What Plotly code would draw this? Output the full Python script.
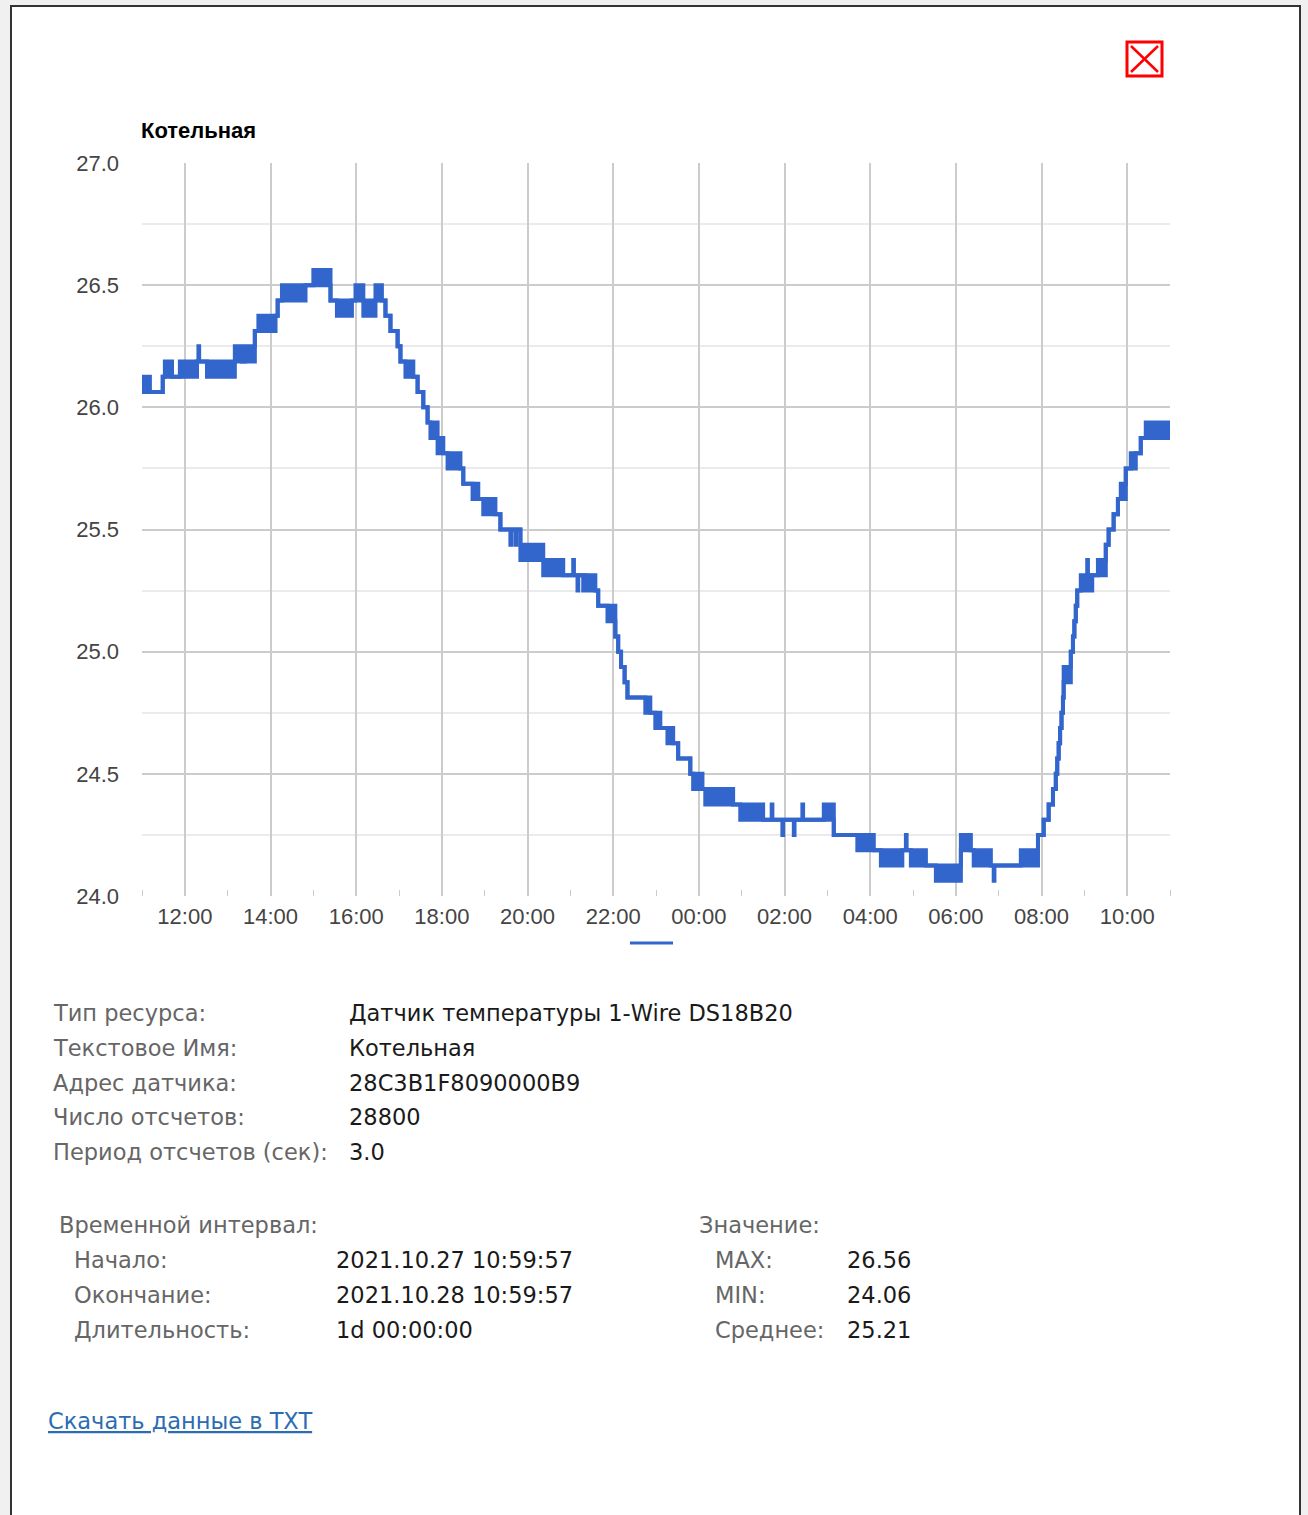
import plotly.graph_objects as go

# DS18B20 readings. Where the sensor flickers between two
# adjacent 1/16 degree steps, low and high differ; otherwise they are equal.
times = [
    "27 10:59:57", "27 11:11", "27 11:29", "27 11:32", "27 11:42", "27 11:53", "27 12:17", "27 12:19", "27 12:20", "27 12:31",
    "27 13:10", "27 13:20", "27 13:24", "27 13:38", "27 13:43", "27 14:07", "27 14:10", "27 14:16", "27 14:49", "27 15:00",
    "27 15:24", "27 15:33", "27 15:54", "27 15:59", "27 16:10", "27 16:27", "27 16:36", "27 16:41", "27 16:48", "27 16:58",
    "27 17:02", "27 17:09", "27 17:20", "27 17:26", "27 17:34", "27 17:40", "27 17:44", "27 17:54", "27 18:02", "27 18:08",
    "27 18:26", "27 18:30", "27 18:43", "27 18:51", "27 18:58", "27 19:15", "27 19:22", "27 19:36", "27 19:37", "27 19:43",
    "27 19:44", "27 19:50", "27 20:22", "27 20:50", "27 21:04", "27 21:05", "27 21:10", "27 21:11", "27 21:18", "27 21:19",
    "27 21:21", "27 21:35", "27 21:39", "27 21:52", "27 22:03", "27 22:07", "27 22:11", "27 22:16", "27 22:20", "27 22:45",
    "27 22:52", "27 22:59", "27 23:06", "27 23:16", "27 23:24", "27 23:31", "27 23:48", "27 23:52", "28 00:05", "28 00:09",
    "28 00:48", "28 00:58", "28 01:30", "28 01:42", "28 01:43", "28 01:57", "28 01:58", "28 02:13", "28 02:14", "28 02:25",
    "28 02:26", "28 02:55", "28 03:09", "28 03:42", "28 04:05", "28 04:15", "28 04:45", "28 04:50", "28 04:51", "28 04:57",
    "28 05:18", "28 05:32", "28 06:07", "28 06:21", "28 06:25", "28 06:49", "28 06:53", "28 06:54", "28 07:31", "28 07:55",
    "28 08:03", "28 08:10", "28 08:16", "28 08:20", "28 08:22", "28 08:24", "28 08:26", "28 08:28", "28 08:30", "28 08:31",
    "28 08:41", "28 08:44", "28 08:46", "28 08:48", "28 08:50", "28 08:55", "28 09:04", "28 09:05", "28 09:10", "28 09:11",
    "28 09:19", "28 09:30", "28 09:34", "28 09:41", "28 09:47", "28 09:51", "28 09:58", "28 10:05", "28 10:12", "28 10:19",
    "28 10:26", "28 10:59:57",
]
low = [
    26.0625, 26.0625, 26.125, 26.125, 26.125, 26.125, 26.1875, 26.1875, 26.1875, 26.125,
    26.1875, 26.1875, 26.1875, 26.3125, 26.3125, 26.375, 26.4375, 26.4375, 26.5, 26.5,
    26.4375, 26.375, 26.4375, 26.4375, 26.375, 26.4375, 26.4375, 26.375, 26.3125, 26.25,
    26.1875, 26.125, 26.125, 26.0625, 26.0, 25.9375, 25.875, 25.8125, 25.8125, 25.75,
    25.75, 25.6875, 25.625, 25.625, 25.5625, 25.5625, 25.5, 25.4375, 25.5, 25.4375,
    25.5, 25.375, 25.3125, 25.3125, 25.3125, 25.3125, 25.25, 25.3125, 25.25, 25.3125,
    25.25, 25.25, 25.1875, 25.125, 25.0625, 25.0, 24.9375, 24.875, 24.8125, 24.75,
    24.75, 24.6875, 24.6875, 24.625, 24.625, 24.5625, 24.5, 24.4375, 24.4375, 24.375,
    24.375, 24.3125, 24.3125, 24.3125, 24.3125, 24.25, 24.3125, 24.25, 24.3125, 24.3125,
    24.3125, 24.3125, 24.25, 24.1875, 24.1875, 24.125, 24.1875, 24.1875, 24.1875, 24.125,
    24.125, 24.0625, 24.1875, 24.1875, 24.125, 24.125, 24.0625, 24.125, 24.125, 24.25,
    24.3125, 24.375, 24.4375, 24.5, 24.5625, 24.625, 24.6875, 24.75, 24.8125, 24.875,
    25.0, 25.0625, 25.125, 25.1875, 25.25, 25.25, 25.25, 25.3125, 25.25, 25.3125,
    25.3125, 25.4375, 25.5, 25.5625, 25.625, 25.625, 25.75, 25.75, 25.8125, 25.875,
    25.875, 25.875,
]
high = [
    26.125, 26.0625, 26.125, 26.1875, 26.125, 26.1875, 26.1875, 26.25, 26.1875, 26.1875,
    26.25, 26.1875, 26.25, 26.3125, 26.375, 26.375, 26.4375, 26.5, 26.5, 26.5625,
    26.4375, 26.4375, 26.4375, 26.5, 26.4375, 26.5, 26.4375, 26.375, 26.3125, 26.25,
    26.1875, 26.1875, 26.125, 26.0625, 26.0, 25.9375, 25.9375, 25.875, 25.8125, 25.8125,
    25.75, 25.6875, 25.6875, 25.625, 25.625, 25.5625, 25.5, 25.5, 25.5, 25.5,
    25.5, 25.4375, 25.375, 25.3125, 25.375, 25.3125, 25.3125, 25.3125, 25.3125, 25.3125,
    25.3125, 25.25, 25.1875, 25.1875, 25.0625, 25.0, 24.9375, 24.875, 24.8125, 24.8125,
    24.75, 24.75, 24.6875, 24.6875, 24.625, 24.5625, 24.5, 24.5, 24.4375, 24.4375,
    24.375, 24.375, 24.3125, 24.375, 24.3125, 24.3125, 24.3125, 24.3125, 24.3125, 24.375,
    24.3125, 24.375, 24.25, 24.25, 24.1875, 24.1875, 24.1875, 24.25, 24.1875, 24.1875,
    24.125, 24.125, 24.25, 24.1875, 24.1875, 24.125, 24.125, 24.125, 24.1875, 24.25,
    24.3125, 24.375, 24.4375, 24.5, 24.5625, 24.625, 24.6875, 24.75, 24.8125, 24.9375,
    25.0, 25.0625, 25.125, 25.1875, 25.25, 25.3125, 25.375, 25.3125, 25.3125, 25.3125,
    25.375, 25.4375, 25.5, 25.5625, 25.625, 25.6875, 25.75, 25.8125, 25.8125, 25.875,
    25.9375, 25.9375,
]
assert len(times) == len(low) == len(high)

x_ticks = ["27 12:00", "27 14:00", "27 16:00", "27 18:00", "27 20:00", "27 22:00",
           "28 00:00", "28 02:00", "28 04:00", "28 06:00", "28 08:00", "28 10:00"]
y_ticks = [24.0, 24.5, 25.0, 25.5, 26.0, 26.5, 27.0]

chart_title = "Котельная"
info_labels = ["Тип ресурса:", "Текстовое Имя:", "Адрес датчика:", "Число отсчетов:", "Период отсчетов (сек):"]
info_values = ["Датчик температуры 1-Wire DS18B20", "Котельная", "28C3B1F8090000B9", "28800", "3.0"]
interval_title = "Временной интервал:"
interval_labels = ["Начало:", "Окончание:", "Длительность:"]
interval_values = ["2021.10.27 10:59:57", "2021.10.28 10:59:57", "1d 00:00:00"]
stat_title = "Значение:"
stat_labels = ["MAX:", "MIN:", "Среднее:"]
stat_values = ["26.56", "24.06", "25.21"]
link_text = "Скачать данные в TXT"


def ts(s):
    return "2021-10-" + s


x = [ts(s) for s in times]

# plot area in page pixels
PL, PR, PT, PB = 142, 1170, 163, 896


def fx(px):
    return (px - PL) / (PR - PL)


def fy(py):
    return (PB - py) / (PB - PT)


blue = "#3366cc"
fig = go.Figure()
fig.add_trace(go.Scatter(x=x, y=low, mode="lines", line=dict(color=blue, width=4, shape="hv"),
                         hoverinfo="skip", showlegend=False))
fig.add_trace(go.Scatter(x=x, y=high, mode="lines", line=dict(color=blue, width=4, shape="hv"),
                         fill="tonexty", fillcolor=blue, showlegend=False))

tick_font = dict(family="Arial, Liberation Sans, sans-serif", size=22, color="#444444")
fig.update_layout(
    width=1308, height=1515, autosize=False,
    margin=dict(l=PL, r=1308 - PR, t=PT, b=1515 - PB, pad=0),
    paper_bgcolor="#f0f0f0", plot_bgcolor="white",
    xaxis=dict(type="date", range=[ts("27 10:59:57"), ts("28 10:59:57")],
               tickvals=[ts(s) for s in x_ticks], tickformat="%H:%M",
               showgrid=True, gridcolor="#cccccc", gridwidth=1.5, zeroline=False,
               ticks="", tickfont=tick_font, ticklabelstandoff=5,
               minor=dict(tick0=ts("27 11:00"), dtick=3600000, ticks="inside",
                          ticklen=6, tickcolor="#cccccc", showgrid=False),
               fixedrange=True),
    yaxis=dict(range=[24, 27], tickvals=y_ticks, tickformat=".1f",
               showgrid=True, gridcolor="#cccccc", gridwidth=1.5, zeroline=False,
               ticks="", tickfont=tick_font, ticklabelstandoff=22,
               minor=dict(dtick=0.25, tick0=24, showgrid=True, gridcolor="#ebebeb", gridwidth=1.5),
               fixedrange=True),
    showlegend=False,
)

# dialog frame
shapes = [
    dict(type="rect", xref="paper", yref="paper", x0=fx(11), x1=fx(1300), y0=fy(1530), y1=fy(6),
         fillcolor="white", line=dict(color="#333333", width=2), layer="below"),
    # close button
    dict(type="rect", xref="paper", yref="paper", x0=fx(1127), x1=fx(1162), y0=fy(76), y1=fy(42),
         line=dict(color="#ff0000", width=3)),
    dict(type="line", xref="paper", yref="paper", x0=fx(1131), x1=fx(1158), y0=fy(46), y1=fy(72),
         line=dict(color="#ff0000", width=2.5)),
    dict(type="line", xref="paper", yref="paper", x0=fx(1131), x1=fx(1158), y0=fy(72), y1=fy(46),
         line=dict(color="#ff0000", width=2.5)),
    # legend swatch (series has no name)
    dict(type="line", xref="paper", yref="paper", x0=fx(630), x1=fx(673), y0=fy(943), y1=fy(943),
         line=dict(color=blue, width=3)),
]
fig.update_layout(shapes=shapes)

text_font = "Tahoma, DejaVu Sans, sans-serif"
grey = "#666666"
black = "#1a1a1a"
ann = []


def label(px, py, text, color, size=22.5, family=text_font, bold=False):
    if bold:
        text = "<b>" + text + "</b>"
    # annotations carry ~3px of padding on the left
    ann.append(dict(xref="paper", yref="paper", x=fx(px - 3), y=fy(py), text=text, showarrow=False,
                    xanchor="left", yanchor="middle",
                    font=dict(family=family, size=size, color=color)))


label(142, 131, chart_title, "#000000", size=22, family="Arial, Liberation Sans, sans-serif", bold=True)

for i, (k, v) in enumerate(zip(info_labels, info_values)):
    yy = 1013 + i * 34.75
    label(54, yy, k, grey)
    label(350, yy, v, black)

label(60, 1225, interval_title, grey)
label(700, 1225, stat_title, grey)
for i in range(3):
    yy = 1260 + i * 35
    label(75, yy, interval_labels[i], grey)
    label(337, yy, interval_values[i], black)
    label(716, yy, stat_labels[i], grey)
    label(848, yy, stat_values[i], black)

label(49, 1421, "<u>" + link_text + "</u>", "#2b6cb3")

fig.update_layout(annotations=ann)

fig.write_html("out.html", config={"displayModeBar": False},
               post_script="document.body.style.margin='0';")
